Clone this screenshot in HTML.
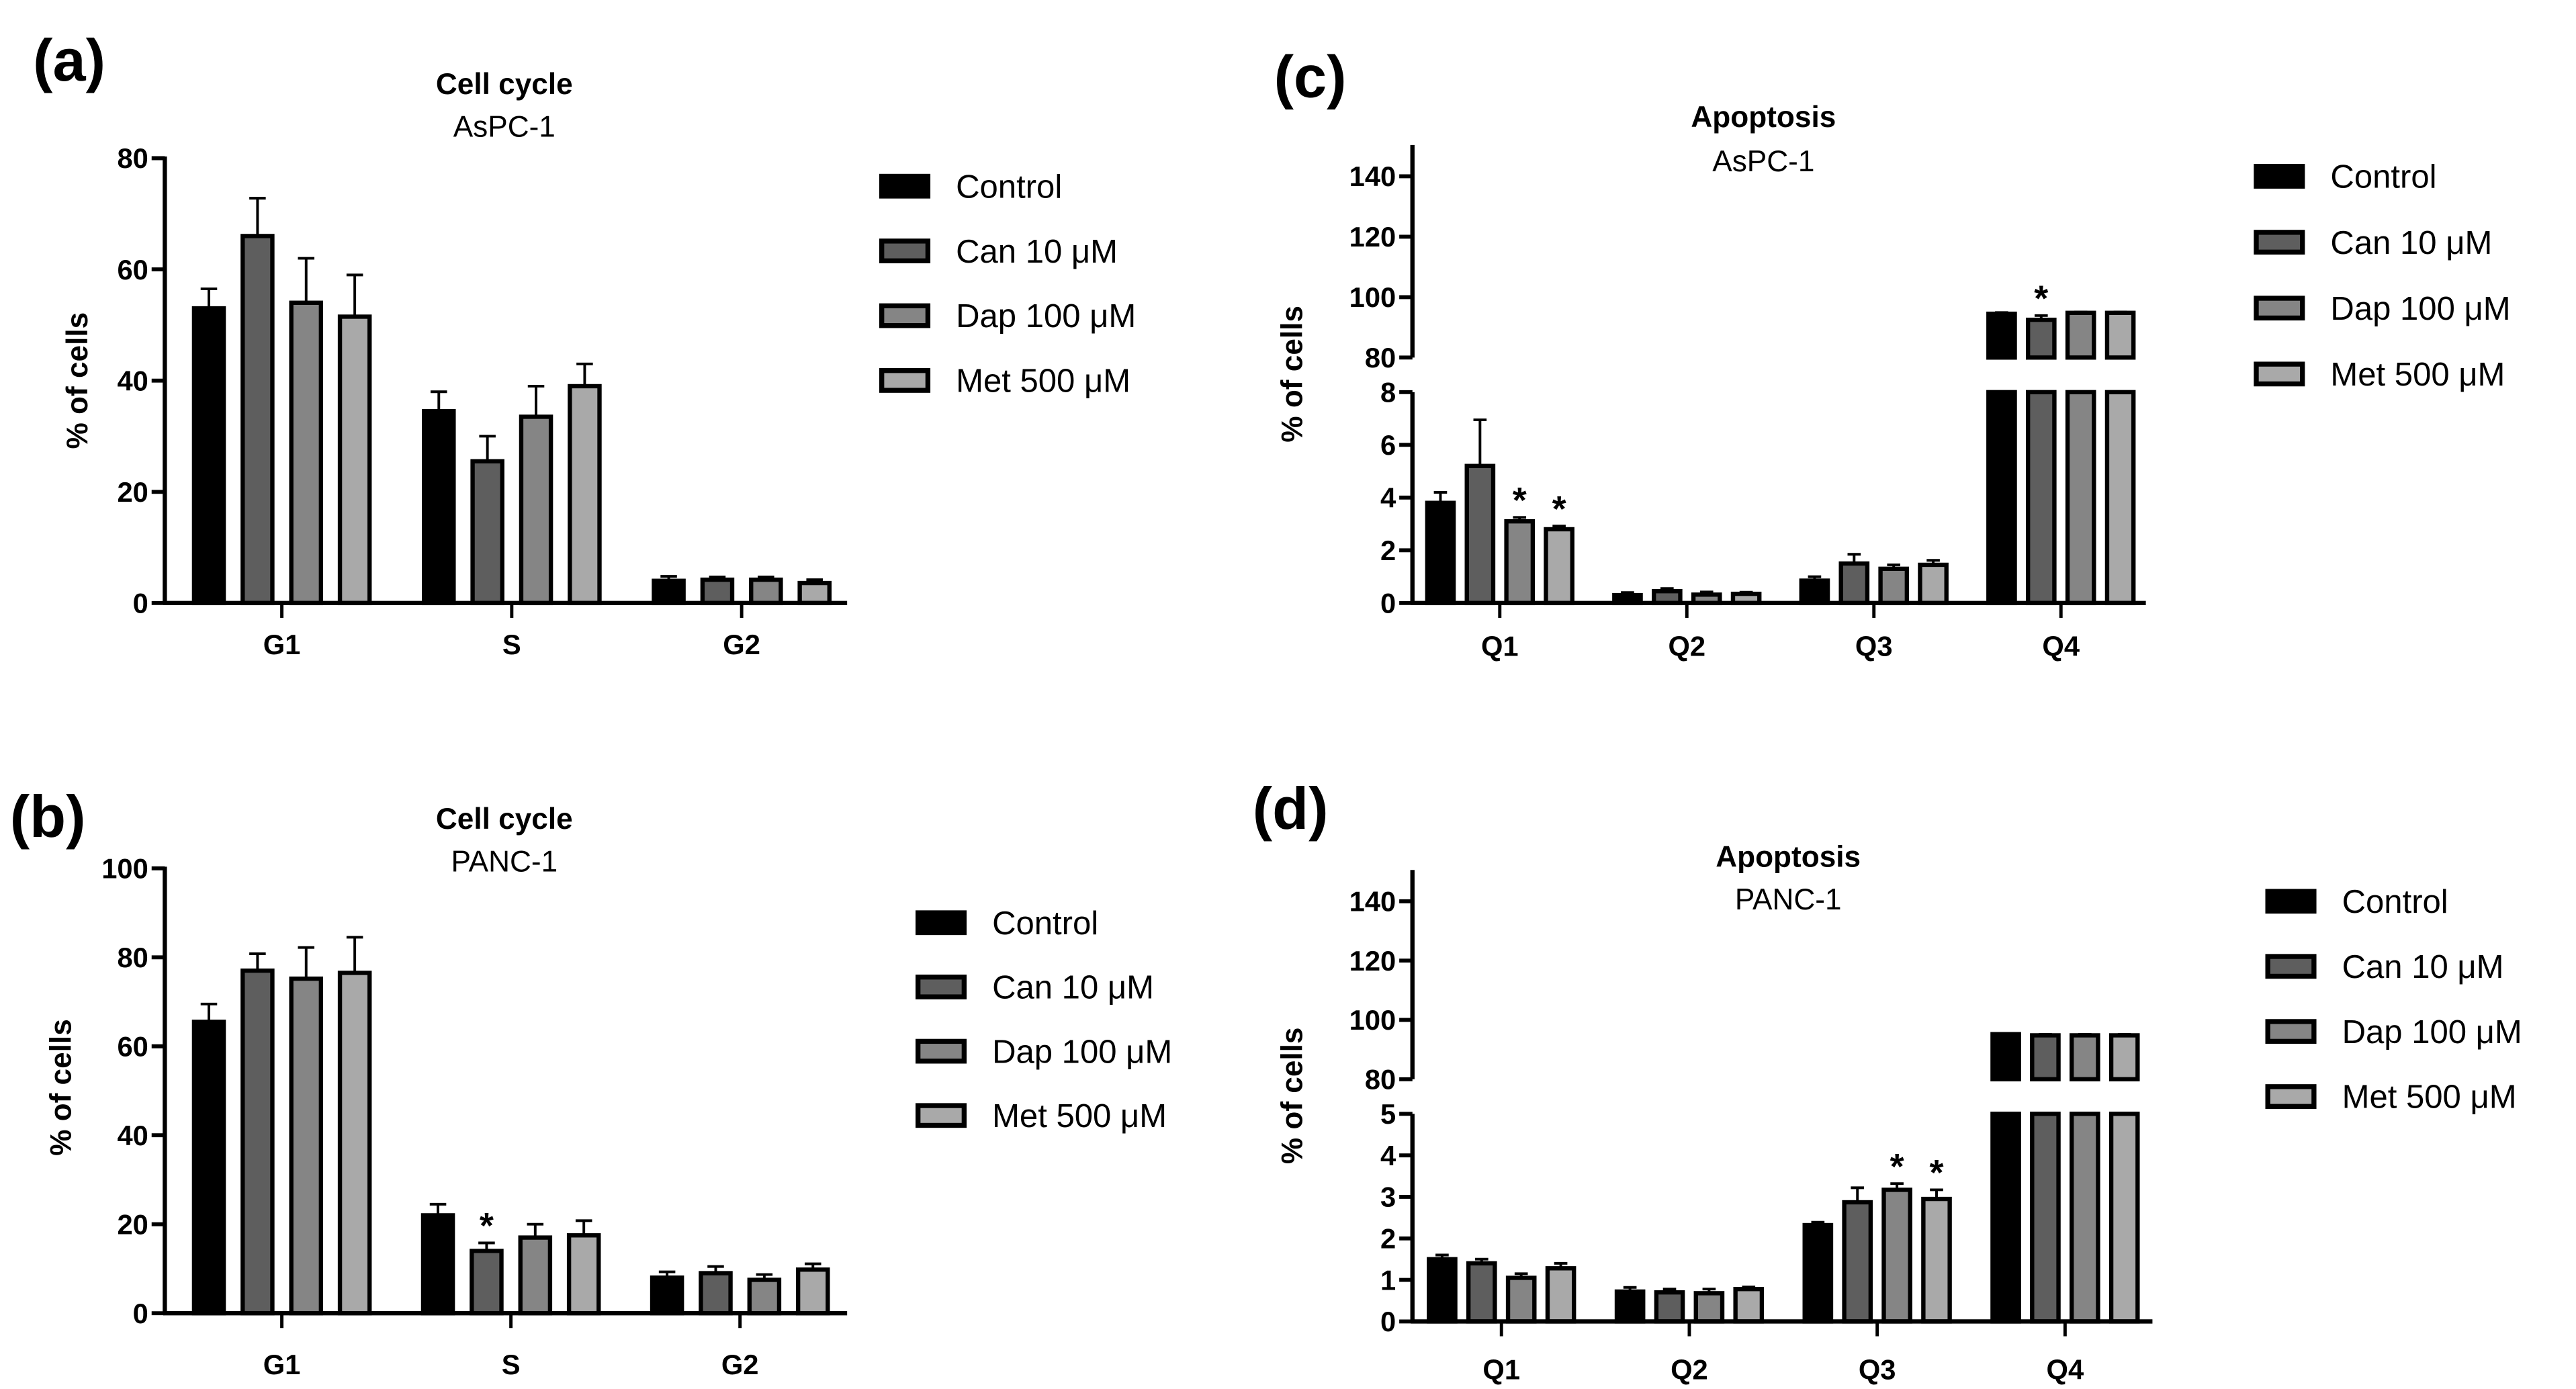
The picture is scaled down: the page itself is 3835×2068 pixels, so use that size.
<!DOCTYPE html>
<html><head><meta charset="utf-8"><style>
html,body{margin:0;padding:0;background:#fff;}
svg{display:block;}
text{font-family:"Liberation Sans",sans-serif;fill:#000;}
</style></head><body>
<svg id="fig" width="3835" height="2068" viewBox="0 0 1563 843" preserveAspectRatio="none" xmlns="http://www.w3.org/2000/svg"></svg>
<script>
// ---- data ----
const seriesNames = ["Control", "Can 10 \u03bcM", "Dap 100 \u03bcM", "Met 500 \u03bcM"];
const seriesColors = ["#000000", "#5e5e5e", "#858585", "#a9a9a9"];
const cycleCats = ["G1", "S", "G2"];
const apoCats = ["Q1", "Q2", "Q3", "Q4"];
// (a) Cell cycle AsPC-1 [category][series]
const aVals = [[53, 66, 54, 51.5], [34.5, 25.5, 33.5, 39], [4, 4.2, 4.2, 3.6]];
const aErr = [[3.5, 6.8, 8, 7.5], [3.5, 4.5, 5.5, 4], [0.8, 0.5, 0.5, 0.6]];
const aStar = [[0,0,0,0],[0,0,0,0],[0,0,0,0]];
const aTicks = [0, 20, 40, 60, 80];
// (b) Cell cycle PANC-1
const bVals = [[65.5, 77, 75.2, 76.5], [22, 14, 17, 17.5], [8, 9, 7.5, 9.8]];
const bErr = [[4, 3.8, 7, 8], [2.5, 1.8, 3, 3.3], [1.3, 1.5, 1.2, 1.3]];
const bStar = [[0,0,0,0],[0,1,0,0],[0,0,0,0]];
const bTicks = [0, 20, 40, 60, 80, 100];
// (c) Apoptosis AsPC-1
const cVals = [[3.8, 5.2, 3.1, 2.8], [0.3, 0.45, 0.32, 0.35], [0.85, 1.5, 1.3, 1.45], [94.5, 92.5, 94.8, 94.8]];
const cErr = [[0.4, 1.75, 0.15, 0.12], [0.1, 0.1, 0.1, 0.06], [0.15, 0.35, 0.15, 0.17], [0.4, 1.4, 0.3, 0.3]];
const cStar = [[0,0,1,1],[0,0,0,0],[0,0,0,0],[0,1,0,0]];
const cLowTicks = [0, 2, 4, 6, 8];
const cHighTicks = [80, 100, 120, 140];
// (d) Apoptosis PANC-1
const dVals = [[1.5, 1.4, 1.05, 1.28], [0.72, 0.7, 0.68, 0.78], [2.32, 2.87, 3.17, 2.95], [95.2, 94.8, 94.8, 94.8]];
const dErr = [[0.1, 0.1, 0.1, 0.12], [0.1, 0.08, 0.1, 0.05], [0.07, 0.35, 0.15, 0.22], [0.2, 0.3, 0.3, 0.3]];
const dStar = [[0,0,0,0],[0,0,0,0],[0,0,1,1],[0,0,0,0]];
const dLowTicks = [0, 1, 2, 3, 4, 5];
const dHighTicks = [80, 100, 120, 140];

const NS = "http://www.w3.org/2000/svg";
const svg = document.getElementById("fig");
function el(tag, attrs, parent, txt) {
  const e = document.createElementNS(NS, tag);
  for (const k in attrs) e.setAttribute(k, attrs[k]);
  if (txt !== undefined) e.textContent = txt;
  (parent || svg).appendChild(e);
  return e;
}
function group(name) {
  const g = el("g", {}, svg);
  
  
  return g;
}

function legend(g, x, y0, dy) {
  seriesNames.forEach((n, i) => {
    const y = y0 + i * dy;
    const sq = el("rect", {x: x + 1, y: y - 6, width: 28, height: 12, fill: seriesColors[i], stroke: "#000", "stroke-width": 3}, g);
    
    
    const t = el("text", {x: x + 46, y: y + 7, "font-size": 20}, g, n);
    
    
  });
}

function titles(g, cx, y1, y2, t1, t2) {
  const a = el("text", {x: cx, y: y1, "font-size": 18, "font-weight": "bold", "text-anchor": "middle"}, g, t1);
  
  
  const b = el("text", {x: cx, y: y2, "font-size": 18, "text-anchor": "middle"}, g, t2);
  
  
}
function panelLabel(g, x, y, s) {
  const t = el("text", {x: x, y: y, "font-size": 36, "font-weight": "bold"}, g, s);
  
  
}
function yTitle(g, x, y) {
  const t = el("text", {x: 0, y: 0, "font-size": 18, "font-weight": "bold", "text-anchor": "middle", transform: `translate(${x},${y}) rotate(-90)`}, g, "% of cells");
  
  
}
function xAxis(g, ax, axEnd, y0, cats, catX, labelY) {
  el("line", {x1: ax - 1, y1: y0, x2: axEnd, y2: y0, stroke: "#000", "stroke-width": 2.6}, g);
  cats.forEach((c, i) => {
    const x = catX(i);
    el("line", {x1: x, y1: y0, x2: x, y2: y0 + 9, stroke: "#000", "stroke-width": 2}, g);
    const t = el("text", {x: x, y: labelY, "font-size": 17, "font-weight": "bold", "text-anchor": "middle"}, g, c);
    
    
  });
}
function yTick(g, ax, y, label) {
  el("line", {x1: ax - 8, y1: y, x2: ax, y2: y, stroke: "#000", "stroke-width": 2.4}, g);
  const t = el("text", {x: ax - 10, y: y + 6, "font-size": 17, "font-weight": "bold", "text-anchor": "end"}, g, String(label));
  
  
}
function errBar(g, x, yTop, yVal, w) {
  el("line", {x1: x, y1: yVal, x2: x, y2: yTop, stroke: "#000", "stroke-width": 1.6}, g);
  el("line", {x1: x - w, y1: yTop, x2: x + w, y2: yTop, stroke: "#000", "stroke-width": 1.6}, g);
}
function star(g, x, y) {
  const t = el("text", {x: x, y: y, "font-size": 22, "font-weight": "bold", "text-anchor": "middle"}, g, "*");
  
  
}

// ---- simple (cell cycle) chart ----
function simpleChart(name, cfg, vals, errs, stars, ticks) {
  const g = group(name);
  const yScale = v => cfg.y0 - (v / cfg.max) * (cfg.y0 - cfg.yTop);
  const catX = i => cfg.x0 + i * cfg.catStep;
  el("line", {x1: cfg.ax, y1: yScale(cfg.max) - 1, x2: cfg.ax, y2: cfg.y0 + 1, stroke: "#000", "stroke-width": 2.6}, g);
  ticks.forEach(t => yTick(g, cfg.ax, yScale(t), t));
  vals.forEach((row, ci) => row.forEach((v, si) => {
    const cx = catX(ci) + (si - 1.5) * cfg.pitch;
    const y = yScale(v);
    const r = el("rect", {x: cx - cfg.bw / 2, y: y, width: cfg.bw, height: cfg.y0 - y, fill: seriesColors[si], stroke: "#000", "stroke-width": 2.6}, g);
    
    
    const yt = yScale(v + errs[ci][si]);
    errBar(g, cx, yt, y, 5);
    if (stars[ci][si]) star(g, cx, yt - 3);
  }));
  xAxis(g, cfg.ax, cfg.axEnd, cfg.y0, cfg.cats, catX, cfg.labelY);
  return g;
}

// ---- broken-axis (apoptosis) chart ----
function brokenChart(name, cfg, vals, errs, stars, lowTicks, highTicks) {
  const g = group(name);
  const lowMax = lowTicks[lowTicks.length - 1];
  const yLow = v => cfg.y0 - (v / lowMax) * (cfg.y0 - cfg.yLowTop);
  const yHigh = v => cfg.yHighBot - (v - 80) / 60 * (cfg.yHighBot - cfg.yHigh140);
  const catX = i => cfg.x0 + i * cfg.catStep;
  el("line", {x1: cfg.ax, y1: cfg.axTop, x2: cfg.ax, y2: cfg.yHighBot, stroke: "#000", "stroke-width": 2.6}, g);
  el("line", {x1: cfg.ax, y1: cfg.yLowTop, x2: cfg.ax, y2: cfg.y0 + 1, stroke: "#000", "stroke-width": 2.6}, g);
  lowTicks.forEach(t => yTick(g, cfg.ax, yLow(t), t));
  highTicks.forEach(t => yTick(g, cfg.ax, yHigh(t), t));
  vals.forEach((row, ci) => row.forEach((v, si) => {
    const cx = catX(ci) + (si - 1.5) * cfg.pitch;
    let yv, yt;
    if (v > lowMax) {
      yv = yHigh(v);
      const r1 = el("rect", {x: cx - cfg.bw / 2, y: cfg.yLowTop, width: cfg.bw, height: cfg.y0 - cfg.yLowTop, fill: seriesColors[si], stroke: "#000", "stroke-width": 2.6}, g);
      
      
      const r2 = el("rect", {x: cx - cfg.bw / 2, y: yv, width: cfg.bw, height: cfg.yHighBot - yv, fill: seriesColors[si], stroke: "#000", "stroke-width": 2.6}, g);
      
      
      yt = yHigh(v + errs[ci][si]);
    } else {
      yv = yLow(v);
      const r = el("rect", {x: cx - cfg.bw / 2, y: yv, width: cfg.bw, height: cfg.y0 - yv, fill: seriesColors[si], stroke: "#000", "stroke-width": 2.6}, g);
      
      
      yt = yLow(v + errs[ci][si]);
    }
    errBar(g, cx, yt, yv, 4);
    if (stars[ci][si]) star(g, cx, yt - 3);
  }));
  xAxis(g, cfg.ax, cfg.axEnd, cfg.y0, cfg.cats, catX, cfg.labelY);
  return g;
}

// Panel (a)
const ga = simpleChart("panel-a-cell-cycle-aspc1",
  {ax: 100, y0: 366, yTop: 96, max: 80, x0: 171, catStep: 139.5, pitch: 29.5, bw: 18, axEnd: 514, labelY: 397, cats: cycleCats},
  aVals, aErr, aStar, aTicks);
panelLabel(ga, 20, 49, "(a)");
titles(ga, 306, 57, 83, "Cell cycle", "AsPC-1");
yTitle(ga, 53, 231);
legend(ga, 534, 113, 39.3);

// Panel (b)
const gb = simpleChart("panel-b-cell-cycle-panc1",
  {ax: 100, y0: 797, yTop: 527, max: 100, x0: 171, catStep: 139, pitch: 29.5, bw: 18, axEnd: 514, labelY: 834, cats: cycleCats},
  bVals, bErr, bStar, bTicks);
panelLabel(gb, 6, 508, "(b)");
titles(gb, 306, 503, 529, "Cell cycle", "PANC-1");
yTitle(gb, 43, 660);
legend(gb, 556, 560, 39);

// Panel (c)
const gc = brokenChart("panel-c-apoptosis-aspc1",
  {ax: 857, y0: 366, yLowTop: 238, yHighBot: 217, yHigh140: 107, axTop: 88, x0: 910, catStep: 113.5, pitch: 24, bw: 16, axEnd: 1302, labelY: 398, cats: apoCats},
  cVals, cErr, cStar, cLowTicks, cHighTicks);
panelLabel(gc, 773, 59, "(c)");
titles(gc, 1070, 77, 104, "Apoptosis", "AsPC-1");
yTitle(gc, 790, 227);
legend(gc, 1368, 107, 40);

// Panel (d)
const gd = brokenChart("panel-d-apoptosis-panc1",
  {ax: 857, y0: 802, yLowTop: 676, yHighBot: 655, yHigh140: 547, axTop: 528, x0: 911, catStep: 114, pitch: 24, bw: 16, axEnd: 1306, labelY: 837, cats: apoCats},
  dVals, dErr, dStar, dLowTicks, dHighTicks);
panelLabel(gd, 760, 503, "(d)");
titles(gd, 1085, 526, 552, "Apoptosis", "PANC-1");
yTitle(gd, 790, 665);
legend(gd, 1375, 547, 39.5);
</script>
</body></html>
